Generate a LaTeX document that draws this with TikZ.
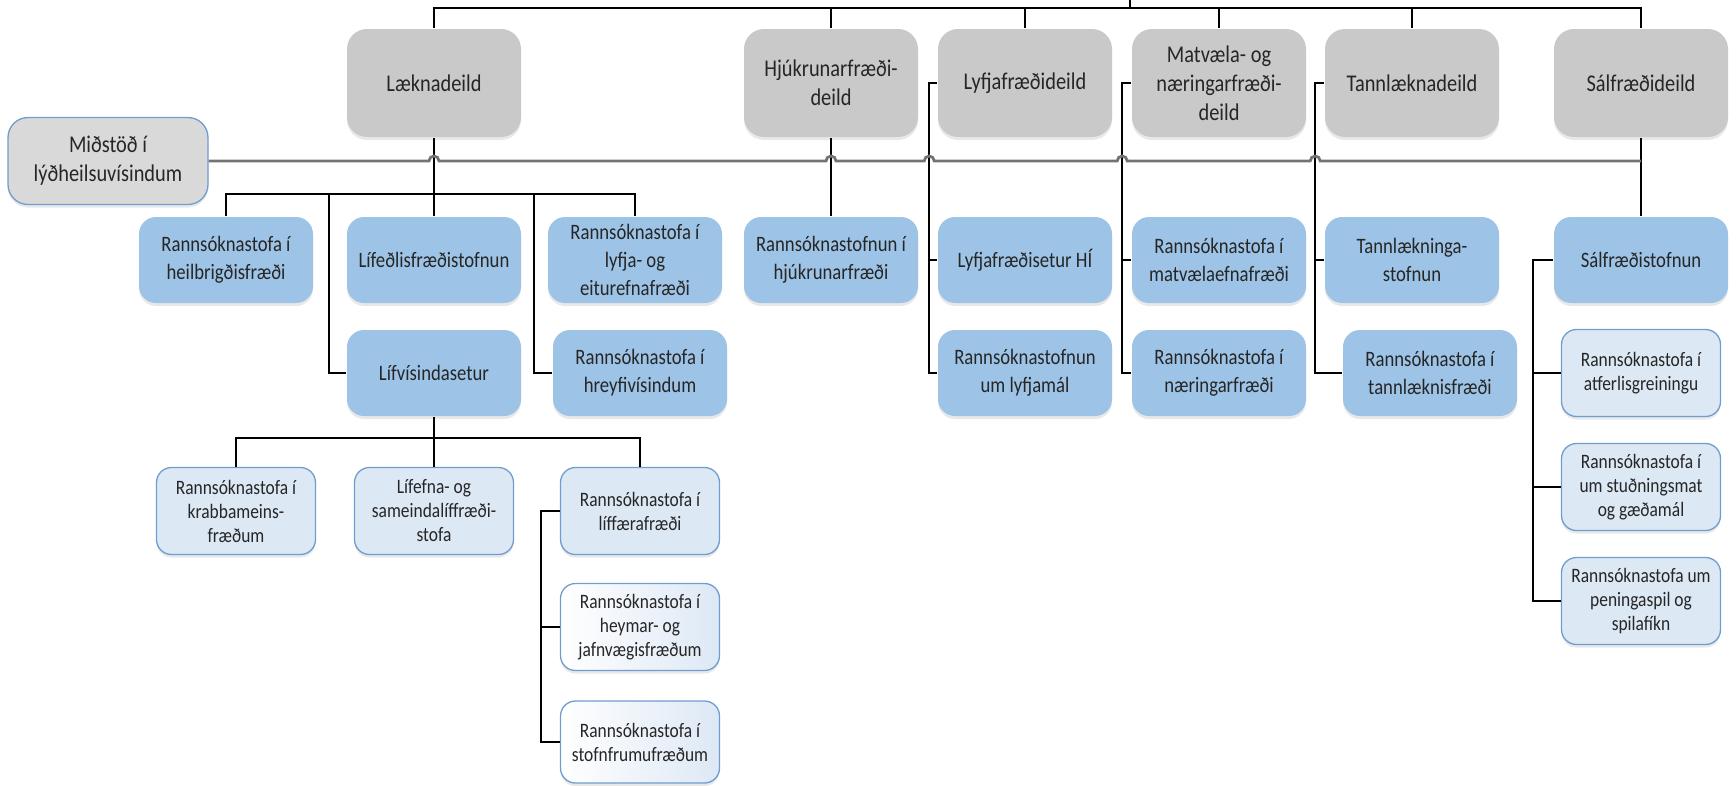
\documentclass[tikz,border=0pt]{standalone}
\usepackage{fontspec}
\setmainfont{Carlito}[FakeStretch=0.85]
\usepackage{tikz}
\usetikzlibrary{positioning, calc, shadows}

\definecolor{deildgray}{HTML}{C9C9C9}
\definecolor{stofnblue}{HTML}{9DC3E6}
\definecolor{ljosblue}{HTML}{DDE8F5}
\definecolor{rammablue}{HTML}{6F9DD0}
\definecolor{midgray}{HTML}{D9D9D9}

\begin{document}
\begin{tikzpicture}[x=1pt, y=-1pt, node distance=113pt, line width=1.6pt, text=black!85]
        \useasboundingbox (0,0) rectangle (1736,785);

        % Define block styles
        \tikzstyle{box} = [rectangle, align=center, inner sep=2pt, drop shadow={opacity=0.18, shadow xshift=0pt, shadow yshift=-3pt}]
        \tikzstyle{deild} = [box, fill=deildgray, rounded corners=20pt, minimum width=174pt, minimum height=108pt, font=\fontsize{24}{29}\selectfont]
        \tikzstyle{stofnun} = [box, fill=stofnblue, rounded corners=17pt, minimum width=174pt, minimum height=86pt, font=\fontsize{22}{28}\selectfont]
        \tikzstyle{stofa} = [box, draw=rammablue, line width=1.3pt, fill=ljosblue, rounded corners=15pt, minimum width=159pt, minimum height=87pt, font=\fontsize{20.5}{24}\selectfont]
        \tikzstyle{ljos} = [left color=white, right color=ljosblue]
        \tikzstyle{hub} = [draw=black!55, line width=2.8pt]

        % Place nodes
        \node [deild] (lk) at (434,83) {Læknadeild};
        \node [deild] (hj) at (831,83) {Hjúkrunarfræði-\\deild};
        \node [deild] (lf) at (1025,83) {Lyfjafræðideild};
        \node [deild] (mv) at (1219,83) {Matvæla- og\\næringarfræði-\\deild};
        \node [deild] (tl) at (1412,83) {Tannlæknadeild};
        \node [deild] (sf) at (1641,83) {Sálfræðideild};
        \node [deild, fill=midgray, draw=rammablue, line width=1.3pt, minimum width=200pt, minimum height=87pt] (mid) at (108,161) {Miðstöð í\\lýðheilsuvísindum};

        \node [stofnun] (heil) at (226,260) {Rannsóknastofa í\\heilbrigðisfræði};
        \node [stofnun] (lif) at (434,260) {Lífeðlisfræðistofnun};
        \node [stofnun] (eitur) at (635,260) {Rannsóknastofa í\\lyfja- og\\eiturefnafræði};
        \node [stofnun] (hjst) at (831,260) {Rannsóknastofnun í\\hjúkrunarfræði};
        \node [stofnun] (lfset) at (1025,260) {Lyfjafræðisetur HÍ};
        \node [stofnun] (mvef) at (1219,260) {Rannsóknastofa í\\matvælaefnafræði};
        \node [stofnun] (tlst) at (1412,260) {Tannlækninga-\\stofnun};
        \node [stofnun] (sfst) at (1641,260) {Sálfræðistofnun};

        \node [stofnun, below of=lif] (lifv) {Lífvísindasetur};
        \node [stofnun, below of=eitur, xshift=5pt] (hreyf) {Rannsóknastofa í\\hreyfivísindum};
        \node [stofnun, below of=lfset] (lyfm) {Rannsóknastofnun\\um lyfjamál};
        \node [stofnun, below of=mvef] (nfr) {Rannsóknastofa í\\næringarfræði};
        \node [stofnun, below of=tlst, xshift=18pt] (tlfr) {Rannsóknastofa í\\tannlæknisfræði};

        \node [stofa] (krabba) at (236,511) {Rannsóknastofa í\\krabbameins-\\fræðum};
        \node [stofa] (lifefna) at (434,511) {Lífefna- og\\sameindalíffræði-\\stofa};
        \node [stofa] (liff) at (640,511) {Rannsóknastofa í\\líffærafræði};
        \node [stofa, ljos, below of=liff, node distance=116pt] (heyrn) {Rannsóknastofa í\\heymar- og\\jafnvægisfræðum};
        \node [stofa, ljos, below of=heyrn, node distance=115pt, minimum height=82pt] (stofn) {Rannsóknastofa í\\stofnfrumufræðum};

        \node [stofa, below of=sfst] (atf) {Rannsóknastofa í\\atferlisgreiningu};
        \node [stofa, below of=atf, node distance=114pt] (stud) {Rannsóknastofa í\\um stuðningsmat\\og gæðamál};
        \node [stofa, below of=stud, node distance=114pt] (pen) {Rannsóknastofa um\\peningaspil og\\spilafíkn};

        % Draw connections
        \coordinate (parent) at (1130,0);
        \coordinate (top) at (1130,8);
        \draw (parent) -- (top);
        \draw (lk.north) |- (top) -| (sf.north);
        \foreach \d in {hj, lf, mv, tl}
            \draw (\d.north) -- (\d.north |- top);

        \draw (lk.south) -- (lif.north);
        \coordinate (lkbr) at (434,194);
        \coordinate (lkl) at (329,194);
        \coordinate (lkr) at (534,194);
        \draw (heil.north) |- (lkbr) -| (eitur.north);
        \draw (lkl) |- (lifv.west);
        \draw (lkr) |- (hreyf.west);

        \coordinate (lvbr) at (434,438);
        \draw (lifv.south) -- (lifefna.north);
        \draw (krabba.north) |- (lvbr) -| (liff.north);
        \draw (liff.west) -- ++(-19pt,0) |- (stofn.west);
        \draw (heyrn.west) -- ++(-19pt,0);

        \draw (hj.south) -- (hjst.north);
        \draw (lf.west) -- ++(-8pt,0) |- (lyfm.west);
        \draw (lfset.west) -- ++(-8pt,0);
        \draw (mv.west) -- ++(-9pt,0) |- (nfr.west);
        \draw (mvef.west) -- ++(-9pt,0);
        \draw (tl.west) -- ++(-9pt,0) |- (tlfr.west);
        \draw (tlst.west) -- ++(-9pt,0);

        \draw (sf.south) -- (sfst.north);
        \draw (sfst.west) -- ++(-20pt,0) |- (pen.west);
        \draw (atf.west) -- ++(-27pt,0);
        \draw (stud.west) -- ++(-27pt,0);

        % Line from the centre, hopping over the others
        \draw [hub] (mid.east) -- ([xshift=-5pt]lk.south |- mid.east) arc[start angle=180, end angle=0, radius=5pt]
            -- ([xshift=-5pt]hj.south |- mid.east) arc[start angle=180, end angle=0, radius=5pt]
            -- ([xshift=-13pt]lf.west |- mid.east) arc[start angle=180, end angle=0, radius=5pt]
            -- ([xshift=-14pt]mv.west |- mid.east) arc[start angle=180, end angle=0, radius=5pt]
            -- ([xshift=-14pt]tl.west |- mid.east) arc[start angle=180, end angle=0, radius=5pt]
            -- (sf.south |- mid.east);
    \end{tikzpicture}
\end{document}
